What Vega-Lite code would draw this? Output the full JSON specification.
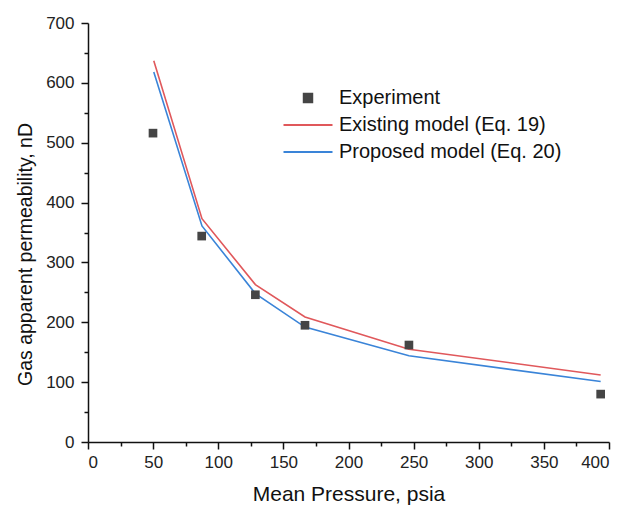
{
  "$schema": "https://vega.github.io/schema/vega-lite/v6.json",
  "width": 521,
  "height": 419,
  "autosize": "none",
  "padding": {"left": 88, "top": 23, "right": 26, "bottom": 67},
  "background": "white",
  "config": {
    "view": {"stroke": null},
    "font": "Liberation Sans",
    "axis": {
      "domainColor": "#111",
      "domainWidth": 1.5,
      "tickColor": "#111",
      "tickWidth": 1.5,
      "grid": false,
      "labelFont": "Liberation Sans",
      "labelFontSize": 17,
      "labelColor": "#222",
      "titleFont": "Liberation Sans",
      "titleFontSize": 21,
      "titleFontWeight": "normal",
      "titleColor": "#111"
    }
  },
  "datasets": {
    "exp": [
      {"p": 49.9, "k": 516, "series": "Experiment"},
      {"p": 87.3, "k": 344, "series": "Experiment"},
      {"p": 128.5, "k": 246, "series": "Experiment"},
      {"p": 166.6, "k": 195, "series": "Experiment"},
      {"p": 246.4, "k": 162, "series": "Experiment"},
      {"p": 393.6, "k": 80, "series": "Experiment"}
    ],
    "models": [
      {"p": 50.5, "k": 637, "series": "Existing model (Eq. 19)"},
      {"p": 87.5, "k": 373, "series": "Existing model (Eq. 19)"},
      {"p": 128.5, "k": 263, "series": "Existing model (Eq. 19)"},
      {"p": 166.6, "k": 209, "series": "Existing model (Eq. 19)"},
      {"p": 246.4, "k": 155, "series": "Existing model (Eq. 19)"},
      {"p": 393.6, "k": 112, "series": "Existing model (Eq. 19)"},
      {"p": 50.5, "k": 618, "series": "Proposed model (Eq. 20)"},
      {"p": 87.5, "k": 361, "series": "Proposed model (Eq. 20)"},
      {"p": 128.5, "k": 248, "series": "Proposed model (Eq. 20)"},
      {"p": 166.6, "k": 192, "series": "Proposed model (Eq. 20)"},
      {"p": 246.4, "k": 144, "series": "Proposed model (Eq. 20)"},
      {"p": 393.6, "k": 101, "series": "Proposed model (Eq. 20)"}
    ]
  },
  "encoding": {
    "x": {
      "field": "p",
      "type": "quantitative",
      "scale": {"domain": [0, 400], "nice": false, "zero": false},
      "axis": {
        "title": "Mean Pressure, psia",
        "values": [0, 25, 50, 75, 100, 125, 150, 175, 200, 225, 250, 275, 300, 325, 350, 375, 400],
        "labelExpr": "datum.value % 50 === 0 ? datum.label : ''",
        "tickSize": {"condition": {"test": "datum.value % 50 === 0", "value": 7}, "value": 4},
        "labelPadding": 5,
        "titlePadding": 13
      }
    },
    "y": {
      "field": "k",
      "type": "quantitative",
      "scale": {"domain": [0, 700], "nice": false},
      "axis": {
        "title": "Gas apparent permeability, nD",
        "values": [0, 50, 100, 150, 200, 250, 300, 350, 400, 450, 500, 550, 600, 650, 700],
        "labelExpr": "datum.value % 100 === 0 ? datum.label : ''",
        "tickSize": {"condition": {"test": "datum.value % 100 === 0", "value": 7}, "value": 4},
        "labelPadding": 7,
        "titlePadding": 10,
        "titleFontSize": 19.5,
        "titleY": 231
      }
    },
    "color": {
      "field": "series",
      "type": "nominal",
      "scale": {
        "domain": ["Experiment", "Existing model (Eq. 19)", "Proposed model (Eq. 20)"],
        "range": ["#454545", "#e0585b", "#3a84d8"]
      },
      "legend": {
        "title": null,
        "orient": "none",
        "legendX": 209,
        "legendY": 64,
        "padding": 0,
        "labelFont": "Liberation Sans",
        "labelFontSize": 20,
        "labelColor": "#111",
        "labelLimit": 400,
        "labelOffset": 20,
        "rowPadding": 6,
        "symbolSize": 400,
        "encode": {
          "symbols": {
            "update": {
              "shape": {"signal": "datum.value === 'Experiment' ? 'square' : 'M-2.45,0H2.45'"},
              "size": {"signal": "datum.value === 'Experiment' ? 75 : 400"},
              "fill": {"signal": "datum.value === 'Experiment' ? '#454545' : 'transparent'"},
              "stroke": {"signal": "datum.value === 'Experiment' ? 'transparent' : (datum.value === 'Existing model (Eq. 19)' ? '#e0585b' : '#3a84d8')"},
              "strokeWidth": {"value": 1.8},
              "opacity": {"value": 1}
            }
          }
        }
      }
    }
  },
  "layer": [
    {
      "data": {"name": "models"},
      "mark": {"type": "line", "strokeWidth": 1.6},
      "encoding": {"detail": {"field": "series"}}
    },
    {
      "data": {"name": "exp"},
      "mark": {"type": "point", "shape": "square", "filled": true, "size": 75, "opacity": 1}
    }
  ]
}
